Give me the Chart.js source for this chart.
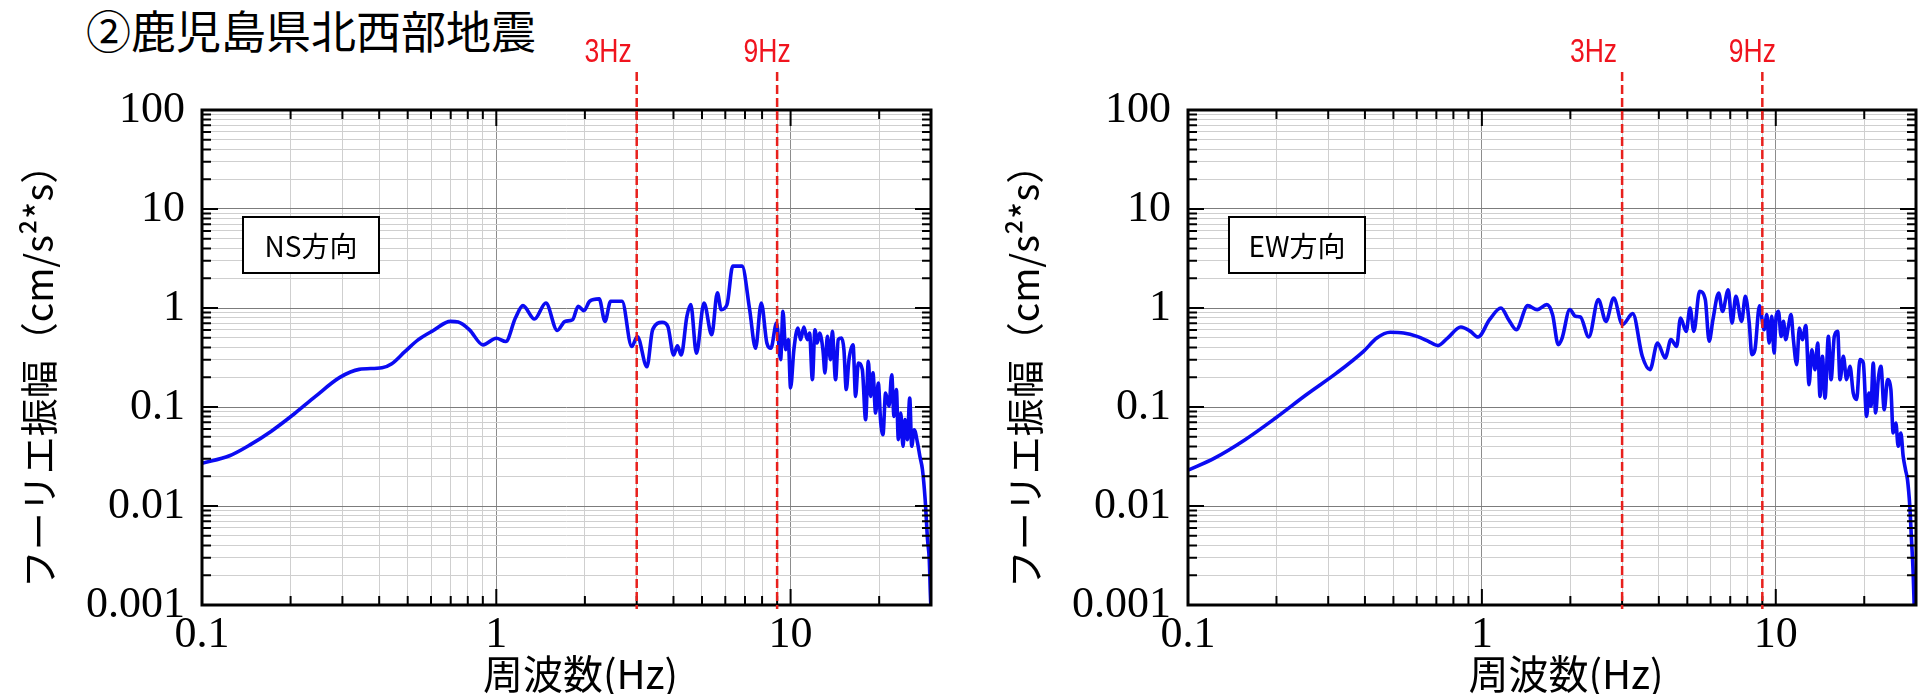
<!DOCTYPE html>
<html lang="ja">
<head>
<meta charset="utf-8">
<title>鹿児島県北西部地震 フーリエスペクトル</title>
<script src="https://cdn.jsdelivr.net/npm/chart.js@4.4.1/dist/chart.umd.min.js"></script>
<style>
  html, body { margin: 0; padding: 0; background: #fff; }
  body { width: 1923px; height: 694px; position: relative; overflow: hidden; }
  #title { position: absolute; left: 86px; top: 5px; font-family: "Noto Sans CJK JP"; font-size: 45px; line-height: 50px; color: #000; white-space: nowrap; }
  canvas { position: absolute; top: 0; }
  #ns { left: 0; width: 975px; height: 694px; }
  #ew { left: 986px; width: 937px; height: 694px; }
</style>
</head>
<body>
<div id="title">②鹿児島県北西部地震</div>
<canvas id="ns" width="975" height="694"></canvas>
<canvas id="ew" width="937" height="694"></canvas>
<script>
// NS方向 (左)
const freqNS = [0.1, 0.124, 0.146, 0.172, 0.206, 0.243, 0.294, 0.342, 0.409, 0.44, 0.489, 0.542, 0.611, 0.699, 0.742, 0.811, 0.901, 1.0, 1.077, 1.161, 1.232, 1.348, 1.474, 1.611, 1.711, 1.816, 1.898, 1.986, 2.076, 2.237, 2.34, 2.447, 2.675, 2.884, 3.015, 3.249, 3.398, 3.659, 3.828, 4.003, 4.125, 4.25, 4.443, 4.58, 4.786, 5.08, 5.395, 5.64, 5.81, 6.08, 6.36, 6.84, 7.26, 7.6, 7.95, 8.31, 8.57, 8.96,
  9.25, 9.42, 9.62, 9.82, 10.0, 10.26, 10.59, 10.81, 11.1, 11.39, 11.6, 11.86, 12.1, 12.32, 12.55, 12.88, 13.09, 13.33, 13.68, 13.86, 14.22, 14.52, 14.9, 15.18, 15.46, 15.79, 16.3, 16.63, 16.98, 17.53, 17.99, 18.37, 18.7, 19.05, 19.45, 19.86, 20.23, 20.6, 21.03, 21.6, 22.06, 22.46, 22.88, 23.24, 23.68, 24.1, 24.48, 24.93, 25.4, 25.8, 26.3, 27.0, 27.5, 28.06, 28.66, 29.2, 29.6, 29.85, 29.95];
const ampNS = [0.027, 0.0322, 0.0417, 0.057, 0.0855, 0.128, 0.199, 0.24, 0.249, 0.272, 0.362, 0.476, 0.593, 0.732, 0.721, 0.602, 0.424, 0.495, 0.458, 0.791, 1.056, 0.773, 1.124, 0.593, 0.732, 0.761, 1.04, 0.94, 1.17, 1.235, 0.732, 1.17, 1.17, 0.408, 0.515, 0.255, 0.602, 0.715, 0.651, 0.335, 0.414, 0.335, 0.823, 1.081, 0.349, 1.124, 0.536, 1.42, 0.962, 1.08, 2.65, 2.65, 0.962, 0.392, 1.124, 0.44, 0.392, 0.704,
  0.301, 0.925, 0.379, 0.479, 0.156, 0.379, 0.628, 0.479, 0.643, 0.479, 0.559, 0.189, 0.604, 0.443, 0.559, 0.379, 0.221, 0.517, 0.301, 0.581, 0.189, 0.479, 0.497, 0.379, 0.15, 0.301, 0.426, 0.128, 0.278, 0.238, 0.0745, 0.289, 0.128, 0.221, 0.087, 0.175, 0.0717, 0.0526, 0.138, 0.1016, 0.212, 0.0805, 0.15, 0.0468, 0.087, 0.0401, 0.0745, 0.0468, 0.123, 0.0401, 0.059, 0.0433, 0.0318, 0.0233, 0.0116, 0.00457, 0.00287, 0.0013, 0.001];

// EW方向 (右)
const freqEW = [0.1, 0.1231, 0.1564, 0.1987, 0.2526, 0.3208, 0.3956, 0.4391, 0.4876, 0.5415, 0.6012, 0.6578, 0.7087, 0.7641, 0.8483, 0.9142, 0.9705, 1.0617, 1.1614, 1.2331, 1.309, 1.432, 1.543, 1.663, 1.74, 1.819, 1.875, 1.99, 2.082, 2.164, 2.311, 2.49, 2.644, 2.808, 3.008, 3.261, 3.514, 3.731, 3.96, 4.205, 4.398, 4.6, 4.74, 4.957, 5.108, 5.264, 5.505, 5.757, 5.932, 6.112, 6.393, 6.587, 6.889, 7.098, 7.314, 7.649, 7.882, 8.121, 8.293, 8.494, 8.8,
  9.129, 9.321, 9.493, 9.692, 9.87, 10.03, 10.21, 10.43, 10.62, 10.81, 11.04, 11.27, 11.48, 11.78, 12.03, 12.32, 12.65, 12.98, 13.26, 13.6, 13.89, 14.14, 14.41, 14.71, 15.1, 15.42, 15.82, 16.24, 16.54, 16.98, 17.42, 17.88, 18.35, 18.84, 19.34, 19.85, 20.37, 20.75, 21.08, 21.46, 21.86, 22.32, 22.79, 23.39, 24.01, 24.64, 25.09, 25.62, 26.09, 26.64, 27.13, 27.63, 28.06, 28.58, 28.96, 29.34, 29.57];
const ampEW = [0.023, 0.0305, 0.0468, 0.0775, 0.133, 0.221, 0.365, 0.497, 0.568, 0.559, 0.517, 0.461, 0.417, 0.497, 0.643, 0.581, 0.509, 0.762, 1.0, 0.762, 0.604, 1.056, 0.962, 1.081, 0.857, 0.426, 0.497, 0.962, 0.824, 0.811, 0.509, 1.214, 0.733, 1.262, 0.679, 0.877, 0.325, 0.238, 0.443, 0.313, 0.479, 0.41, 0.793, 0.581, 1.0, 0.581, 1.474, 1.214, 0.461, 0.762, 1.418, 0.925, 1.531, 0.705, 1.311, 0.733, 1.311, 0.705, 0.338, 0.379, 1.05,
  0.604, 0.857, 0.443, 0.824, 0.351, 0.824, 0.925, 0.517, 0.733, 0.479, 0.653, 0.857, 0.479, 0.268, 0.628, 0.479, 0.663, 0.168, 0.379, 0.238, 0.443, 0.128, 0.325, 0.123, 0.517, 0.189, 0.517, 0.581, 0.189, 0.325, 0.189, 0.257, 0.138, 0.119, 0.301, 0.278, 0.0805, 0.138, 0.1016, 0.278, 0.087, 0.189, 0.257, 0.094, 0.189, 0.15, 0.0546, 0.0689, 0.0401, 0.0546, 0.0318, 0.0233, 0.0185, 0.0099, 0.00457, 0.0021, 0.001];

const xMajor = [0.1, 1, 10];
const xTickLabels = ['0.1', '1', '10'];
const yMajor = [0.001, 0.01, 0.1, 1, 10, 100];
const yTickLabels = ['0.001', '0.01', '0.1', '1', '10', '100'];
const markerFreqs = [3, 9];
const markerLabels = ['3Hz', '9Hz'];

const X_MIN = 0.1, X_MAX = 30, Y_MIN = 0.001, Y_MAX = 100;

// majors plus 2..9 times each decade
function logTicks(majors, max) {
  const out = [];
  majors.forEach(m => {
    out.push(m);
    for (let k = 2; k <= 9; k++) {
      const v = +(m * k).toPrecision(6);
      if (v <= max) out.push(v);
    }
  });
  return out.filter(v => v <= max);
}
const xTicks = logTicks(xMajor, X_MAX);
const yTicks = logTicks(yMajor, Y_MAX);

const decor = {
  id: 'decor',
  afterDatasetsDraw(chart, args, opts) {
    const { ctx, chartArea: a, scales: { x, y } } = chart;
    ctx.save();

    // inward ticks on all four sides
    ctx.strokeStyle = '#000';
    ctx.lineWidth = 2;
    ctx.beginPath();
    x.ticks.forEach(t => {
      const px = x.getPixelForValue(t.value);
      const len = xMajor.includes(t.value) ? 16 : 9;
      ctx.moveTo(px, a.top); ctx.lineTo(px, a.top + len);
      ctx.moveTo(px, a.bottom); ctx.lineTo(px, a.bottom - len);
    });
    y.ticks.forEach(t => {
      const py = y.getPixelForValue(t.value);
      const len = yMajor.includes(t.value) ? 16 : 9;
      ctx.moveTo(a.left, py); ctx.lineTo(a.left + len, py);
      ctx.moveTo(a.right, py); ctx.lineTo(a.right - len, py);
    });
    ctx.stroke();

    // frame
    ctx.lineWidth = 3;
    ctx.strokeRect(a.left, a.top, a.right - a.left, a.bottom - a.top);

    // direction box
    const bx = a.left + 41, by = a.top + 107, bw = 136, bh = 56;
    ctx.fillStyle = '#fff';
    ctx.fillRect(bx, by, bw, bh);
    ctx.lineWidth = 2;
    ctx.strokeRect(bx, by, bw, bh);
    ctx.fillStyle = '#000';
    ctx.font = '28px "Noto Sans CJK JP"';
    ctx.textAlign = 'center';
    ctx.textBaseline = 'middle';
    ctx.fillText(opts.label, bx + bw / 2, by + bh / 2 + 1);

    // 3Hz / 9Hz markers
    markerFreqs.forEach((f, i) => {
      const px = x.getPixelForValue(f);
      ctx.strokeStyle = '#e8201c';
      ctx.lineWidth = 2.5;
      ctx.setLineDash([9, 4]);
      ctx.beginPath();
      ctx.moveTo(px, a.top - 38);
      ctx.lineTo(px, a.bottom + 4);
      ctx.stroke();
      ctx.setLineDash([]);
      // narrow red label above the line
      ctx.save();
      ctx.fillStyle = '#f0141e';
      ctx.font = '34px "Liberation Sans"';
      ctx.textBaseline = 'alphabetic';
      const tx = i === 0 ? px - 5 : px - 10;
      ctx.translate(tx, a.top - 48);
      ctx.scale(0.78, 1);
      ctx.textAlign = i === 0 ? 'right' : 'center';
      ctx.fillText(markerLabels[i], 0, 0);
      ctx.restore();
    });
    ctx.restore();
  }
};

function makeChart(id, freq, amp, label, rightPad) {
  const points = freq.map((f, i) => ({ x: f, y: amp[i] }));
  return new Chart(document.getElementById(id), {
    type: 'line',
    data: {
      datasets: [{
        data: points,
        borderColor: '#0b0bf2',
        borderWidth: 3.6,
        pointRadius: 0,
        cubicInterpolationMode: 'monotone',
        borderJoinStyle: 'round',
        borderCapStyle: 'round'
      }]
    },
    options: {
      responsive: false,
      animation: false,
      layout: { padding: { top: 110, right: rightPad, left: 0, bottom: 0 } },
      plugins: {
        legend: { display: false },
        tooltip: { enabled: false },
        decor: { label: label }
      },
      scales: {
        x: {
          type: 'logarithmic',
          min: X_MIN, max: X_MAX,
          afterBuildTicks: s => { s.ticks = xTicks.map(v => ({ value: v })); },
          afterFit: s => { s.height = 89; },
          grid: {
            drawTicks: false,
            color: c => xMajor.includes(c.tick.value) ? '#8c8c8c' : '#cfcfcf',
            lineWidth: 1
          },
          border: { display: false },
          ticks: {
            autoSkip: false, maxRotation: 0, padding: 4, color: '#000',
            font: { family: '"Liberation Serif"', size: 44 },
            callback: v => { const i = xMajor.indexOf(v); return i >= 0 ? xTickLabels[i] : ''; }
          },
          title: {
            display: true, text: '\u2002\u2009周波数(Hz)', color: '#000',
            font: { family: '"Noto Sans CJK JP"', size: 40, lineHeight: 1 },
            padding: { top: 0, bottom: 0 }
          }
        },
        y: {
          type: 'logarithmic',
          min: Y_MIN, max: Y_MAX,
          afterBuildTicks: s => { s.ticks = yTicks.map(v => ({ value: v })); },
          afterFit: s => { s.width = 202; },
          grid: {
            drawTicks: false,
            color: c => yMajor.includes(c.tick.value) ? '#7c7c7c' : '#cfcfcf',
            lineWidth: 1
          },
          border: { display: false },
          ticks: {
            autoSkip: false, padding: 17, color: '#000',
            font: { family: '"Liberation Serif"', size: 44 },
            callback: v => { const i = yMajor.indexOf(v); return i >= 0 ? yTickLabels[i] : ''; }
          },
          title: {
            display: true, text: 'フーリエ振幅（cm/s²*s）\u2002', color: '#000',
            font: { family: '"Noto Sans CJK JP"', size: 38, lineHeight: 1 },
            padding: { top: 20, bottom: 0 }
          }
        }
      }
    },
    plugins: [decor]
  });
}

makeChart('ns', freqNS, ampNS, 'NS方向', 44);
makeChart('ew', freqEW, ampEW, 'EW方向', 7);
</script>
</body>
</html>
